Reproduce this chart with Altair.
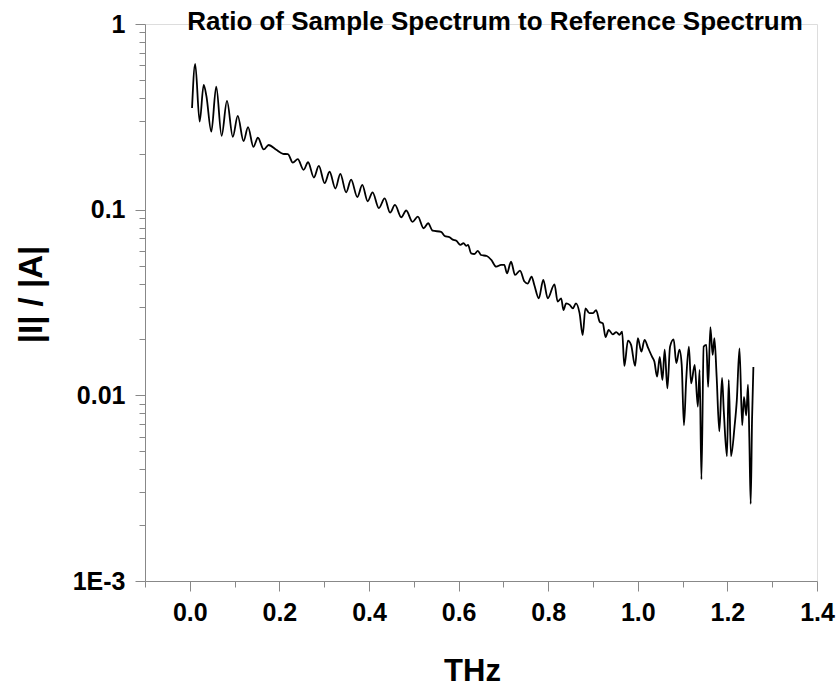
import altair as alt
import pandas as pd

# Frequency (THz) and |I|/|A| ratio
freq = [0.005, 0.012, 0.022, 0.031, 0.037, 0.048, 0.059, 0.071, 0.083, 0.096,
        0.107, 0.120, 0.130, 0.142, 0.152, 0.165, 0.176, 0.193, 0.208, 0.219,
        0.230, 0.241, 0.254, 0.264, 0.277, 0.288, 0.301, 0.312, 0.325, 0.336,
        0.349, 0.360, 0.374, 0.385, 0.397, 0.408, 0.422, 0.435, 0.447, 0.458,
        0.472, 0.483, 0.497, 0.509, 0.522, 0.532, 0.542, 0.561, 0.569, 0.580,
        0.587, 0.595, 0.604, 0.611, 0.617, 0.621, 0.628, 0.635, 0.643, 0.650,
        0.663, 0.673, 0.684, 0.695, 0.702, 0.708, 0.717, 0.726, 0.737, 0.747,
        0.754, 0.763, 0.769, 0.779, 0.789, 0.799, 0.814, 0.821, 0.829, 0.834,
        0.840, 0.848, 0.855, 0.862, 0.870, 0.877, 0.883, 0.892, 0.900, 0.907,
        0.915, 0.922, 0.928, 0.935, 0.944, 0.952, 0.959, 0.965, 0.970, 0.978,
        0.985, 0.994, 1.000, 1.008, 1.015, 1.023, 1.032, 1.037, 1.043, 1.049,
        1.055, 1.060, 1.066, 1.072, 1.080, 1.086, 1.093, 1.098, 1.103, 1.108,
        1.114, 1.119, 1.127, 1.134, 1.138, 1.142, 1.147, 1.153, 1.157, 1.162,
        1.167, 1.171, 1.176, 1.182, 1.188, 1.192, 1.199, 1.203, 1.208, 1.216,
        1.221, 1.227, 1.233, 1.237, 1.242, 1.246, 1.249, 1.252, 1.255, 1.258]

ratio = [0.353, 0.61, 0.298, 0.47, 0.41, 0.263, 0.46, 0.25, 0.385, 0.247,
         0.32, 0.234, 0.278, 0.218, 0.244, 0.211, 0.223, 0.21, 0.200, 0.199,
         0.179, 0.187, 0.164, 0.18, 0.149, 0.172, 0.139, 0.16, 0.130, 0.156,
         0.124, 0.145, 0.117, 0.136, 0.111, 0.124, 0.102, 0.115, 0.0964, 0.106,
         0.091, 0.099, 0.086, 0.0917, 0.0794, 0.0845, 0.077, 0.076, 0.0722, 0.071,
         0.069, 0.068, 0.0646, 0.066, 0.0638, 0.0646, 0.0582, 0.0577, 0.060, 0.057,
         0.0563, 0.0536, 0.0493, 0.0504, 0.0504, 0.0454, 0.0525, 0.0445, 0.047, 0.041,
         0.040, 0.0436, 0.0393, 0.0333, 0.0418, 0.0333, 0.0396, 0.032, 0.0333, 0.0288,
         0.0313, 0.0307, 0.0294, 0.0313, 0.0277, 0.0211, 0.0294, 0.0277, 0.0277, 0.0288,
         0.0249, 0.0244, 0.0206, 0.0225, 0.0213, 0.0219, 0.0212, 0.022, 0.0144, 0.0197,
         0.0187, 0.0144, 0.0203, 0.0172, 0.0199, 0.0180, 0.0161, 0.0152, 0.0126, 0.0161,
         0.0121, 0.0176, 0.0109, 0.0183, 0.020, 0.0149, 0.0176, 0.0146, 0.0069, 0.0121,
         0.0183, 0.0116, 0.0146, 0.0087, 0.0137, 0.00353, 0.0183, 0.0187, 0.0111, 0.0233,
         0.0165, 0.0203, 0.0126, 0.0064, 0.0124, 0.0082, 0.0047, 0.0121, 0.0047, 0.0068,
         0.0094, 0.0179, 0.0069, 0.0098, 0.0078, 0.0114, 0.0058, 0.0026, 0.0074, 0.0142]

x_ticks = [round(-0.1 + 0.1 * i, 1) for i in range(16)]
y_ticks = [round(m * d, 6) for d in [0.001, 0.01, 0.1] for m in range(1, 10)] + [1.0]

title_text = ["Ratio of Sample Spectrum to Reference Spectrum"]

df = pd.DataFrame({"f": freq, "r": ratio})
tdf = pd.DataFrame({"t": title_text})

FONT = "Liberation Sans"

x_major = "abs(round(datum.value*10)) % 2 == 0"
y_major = "abs(log(datum.value)/LN10 - round(log(datum.value)/LN10)) < 0.001"

line = alt.Chart(df).mark_line(color="black", strokeWidth=1.8, interpolate="monotone").encode(
    x=alt.X("f:Q",
            scale=alt.Scale(domain=[-0.1, 1.4], nice=False, zero=False),
            axis=alt.Axis(values=x_ticks, title="THz", grid=False,
                          labelExpr=f"{x_major} ? format(datum.value, '.1f') : ''",
                          tickSize={"condition": {"test": x_major, "value": 10}, "value": 6},
                          labelFont=FONT, labelFontSize=25, labelFontWeight="bold",
                          labelBaseline="alphabetic", labelPadding=29, labelFlush=False,
                          labelOverlap=False,
                          titleFont=FONT, titleFontSize=31, titleFontWeight="bold",
                          titleBaseline="alphabetic", titleX=327, titleY=99,
                          titleAlign="center", titleAnchor="start")),
    y=alt.Y("r:Q",
            scale=alt.Scale(type="log", domain=[0.001, 1], nice=False),
            axis=alt.Axis(values=y_ticks, title="|I| / |A|", grid=False,
                          labelExpr=("datum.value > 0.99 ? '1' : abs(datum.value-0.1) < 1e-6 ? '0.1' : "
                                     "abs(datum.value-0.01) < 1e-7 ? '0.01' : "
                                     "abs(datum.value-0.001) < 1e-8 ? '1E-3' : ''"),
                          tickSize={"condition": {"test": y_major, "value": 10}, "value": 6},
                          labelFont=FONT, labelFontSize=25, labelFontWeight="bold",
                          labelPadding=10, labelFlush=False, labelOverlap=False,
                          titleFont=FONT, titleFontSize=33, titleFontWeight="bold",
                          titleBaseline="alphabetic", titleAngle=-90,
                          titleX=-104, titleY=270, titleAlign="center", titleAnchor="start")),
)

title = alt.Chart(tdf).mark_text(
    font=FONT, fontSize=26, fontWeight="bold", color="black",
    align="center", baseline="alphabetic",
).encode(text="t:N", x=alt.value(350), y=alt.value(6))

chart = alt.layer(line, title).properties(
    width=672,
    height=557,
    autosize=alt.AutoSizeParams(type="none"),
    padding={"left": 145, "top": 24, "right": 20, "bottom": 106},
).configure_axis(
    domainColor="black", domainWidth=2, tickColor="black", tickWidth=2,
    labelColor="black", titleColor="black",
).configure_view(stroke=None).configure(background="white")

chart.save("out.html", embed_options={"renderer": "svg", "actions": False})
